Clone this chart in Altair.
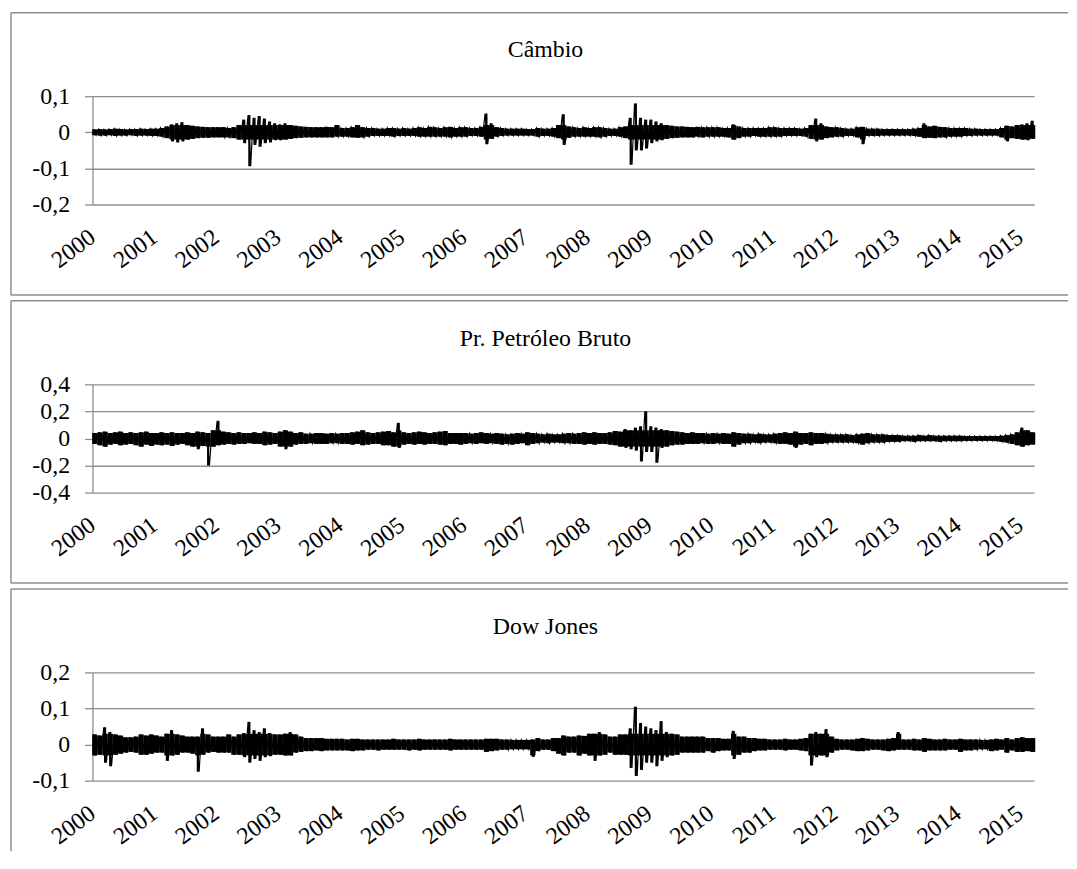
import altair as alt
import pandas as pd

# ---------------- data (values in thousandths: monthly high / low of the daily returns) ----------
tick_years = list(range(2000, 2016))

cambio_hi = [
    8, 9, 8, 9, 10, 9, 8, 9, 9, 10, 9, 10,
    10, 12, 16, 22, 25, 28, 20, 18, 16, 15, 14, 14,
    14, 14, 12, 14, 20, 35, 48, 40, 45, 38, 30, 25,
    22, 25, 20, 18, 16, 15, 14, 14, 14, 15, 14, 20,
    12, 12, 14, 20, 14, 12, 12, 10, 10, 12, 12, 10,
    12, 10, 12, 14, 12, 15, 14, 12, 14, 15, 12, 14,
    14, 12, 12, 15, 52, 25, 14, 12, 10, 10, 10, 10,
    9, 9, 12, 10, 10, 12, 20, 50, 16, 14, 12, 14,
    12, 14, 14, 12, 10, 10, 14, 16, 40, 80, 40, 35,
    35, 30, 25, 20, 18, 16, 16, 15, 14, 15, 14, 14,
    14, 14, 12, 12, 22, 16, 12, 12, 12, 12, 12, 14,
    14, 12, 12, 12, 12, 10, 12, 20, 38, 25, 16, 14,
    14, 12, 10, 10, 14, 15, 10, 10, 10, 9, 9, 9,
    9, 9, 9, 10, 12, 25, 16, 18, 15, 14, 12, 12,
    12, 12, 10, 10, 9, 9, 9, 9, 12, 18, 16, 20,
    22, 25, 32,
]
cambio_lo = [
    -8, -9, -9, -8, -10, -9, -9, -8, -10, -9, -9, -10,
    -10, -12, -16, -25, -28, -25, -20, -18, -16, -15, -15, -14,
    -14, -14, -14, -16, -20, -30, -94, -35, -40, -30, -28, -22,
    -22, -20, -18, -16, -15, -14, -14, -14, -14, -14, -14, -12,
    -12, -12, -14, -15, -14, -12, -10, -10, -10, -10, -12, -10,
    -10, -10, -10, -12, -12, -12, -12, -12, -12, -14, -12, -12,
    -12, -10, -10, -12, -33, -18, -12, -10, -9, -9, -9, -9,
    -9, -9, -12, -10, -10, -12, -16, -35, -15, -12, -12, -12,
    -12, -12, -14, -12, -10, -10, -12, -16, -90, -50, -50, -45,
    -30, -25, -22, -18, -16, -15, -14, -14, -14, -12, -14, -12,
    -12, -12, -12, -14, -20, -16, -12, -12, -10, -12, -12, -12,
    -12, -12, -10, -10, -10, -10, -12, -18, -25, -20, -16, -14,
    -12, -12, -10, -10, -14, -33, -10, -10, -10, -9, -9, -9,
    -9, -9, -9, -10, -12, -16, -15, -16, -14, -14, -12, -12,
    -12, -10, -10, -9, -9, -9, -9, -9, -14, -25, -16, -18,
    -20, -22, -18,
]

petroleo_hi = [
    40, 45, 50, 40, 45, 50, 40, 45, 40, 45, 50, 40,
    40, 45, 40, 45, 40, 40, 45, 40, 50, 45, 40, 60,
    130, 50, 45, 40, 45, 40, 40, 45, 40, 50, 45, 40,
    50, 60, 50, 40, 45, 35, 35, 40, 40, 35, 40, 35,
    40, 40, 45, 50, 60, 45, 40, 45, 50, 55, 45, 115,
    45, 40, 45, 50, 45, 40, 45, 50, 55, 40, 40, 40,
    40, 35, 40, 45, 40, 35, 40, 35, 30, 35, 40, 35,
    45, 40, 35, 30, 35, 30, 30, 35, 40, 35, 40, 45,
    40, 45, 40, 40, 45, 55, 50, 70, 60, 80, 90, 200,
    90, 80, 70, 60, 55, 50, 45, 40, 45, 40, 40, 35,
    40, 35, 40, 35, 45, 40, 35, 35, 30, 35, 30, 30,
    35, 40, 45, 40, 50, 40, 40, 45, 40, 40, 35, 30,
    30, 30, 30, 25, 30, 35, 40, 30, 30, 30, 25, 25,
    25, 20, 20, 20, 25, 20, 25, 20, 20, 20, 20, 20,
    20, 18, 18, 18, 18, 18, 18, 18, 20, 25, 30, 45,
    80, 60, 45,
]
petroleo_lo = [
    -40, -50, -60, -45, -40, -50, -45, -40, -50, -60, -45, -55,
    -45, -50, -45, -55, -45, -40, -50, -60, -80, -55, -200, -60,
    -50, -45, -40, -45, -40, -40, -35, -40, -40, -50, -45, -40,
    -60, -80, -60, -45, -40, -40, -35, -40, -40, -40, -35, -35,
    -40, -40, -45, -40, -50, -45, -40, -40, -50, -50, -60, -70,
    -45, -40, -45, -40, -45, -40, -40, -45, -50, -40, -40, -45,
    -40, -35, -40, -35, -40, -35, -40, -45, -40, -45, -40, -35,
    -50, -40, -35, -30, -35, -30, -30, -35, -35, -40, -40, -45,
    -40, -45, -40, -40, -45, -50, -60, -70, -80, -90, -170, -100,
    -100, -180, -70, -60, -50, -45, -45, -40, -40, -40, -35, -40,
    -40, -35, -40, -40, -60, -45, -35, -35, -30, -35, -30, -30,
    -35, -40, -40, -45, -70, -45, -40, -50, -40, -40, -35, -30,
    -30, -30, -30, -30, -35, -45, -35, -30, -30, -30, -25, -25,
    -25, -20, -20, -25, -20, -20, -20, -20, -25, -20, -20, -20,
    -20, -18, -18, -18, -18, -18, -18, -20, -25, -30, -40, -50,
    -60, -50, -45,
]

dow_hi = [
    28, 25, 48, 35, 28, 25, 20, 20, 22, 28, 25, 28,
    25, 22, 30, 40, 28, 25, 22, 22, 22, 45, 28, 22,
    22, 22, 28, 22, 28, 32, 63, 40, 35, 45, 32, 28,
    28, 30, 35, 28, 22, 18, 18, 18, 18, 16, 16, 16,
    16, 14, 16, 16, 14, 14, 14, 14, 14, 14, 16, 14,
    14, 14, 14, 16, 14, 14, 14, 14, 14, 16, 14, 14,
    14, 14, 14, 14, 16, 16, 16, 14, 14, 13, 13, 13,
    13, 14, 18, 14, 14, 18, 18, 25, 22, 22, 25, 24,
    30, 30, 35, 28, 22, 22, 28, 28, 45, 105, 60, 50,
    45, 40, 65, 35, 30, 28, 22, 22, 22, 22, 22, 18,
    18, 18, 16, 16, 38, 22, 22, 18, 18, 16, 16, 14,
    14, 14, 16, 14, 14, 16, 18, 30, 35, 30, 43, 22,
    16, 14, 14, 14, 16, 18, 16, 14, 14, 14, 16, 18,
    35, 14, 14, 16, 14, 18, 16, 14, 14, 16, 14, 14,
    16, 14, 14, 14, 13, 13, 14, 16, 14, 18, 14, 18,
    20, 18, 18,
]
dow_lo = [
    -30, -28, -50, -60, -28, -25, -22, -20, -22, -28, -28, -25,
    -22, -22, -45, -30, -28, -22, -22, -25, -75, -28, -22, -20,
    -22, -22, -22, -28, -28, -35, -50, -40, -45, -35, -32, -28,
    -28, -30, -30, -22, -20, -18, -18, -16, -18, -16, -16, -16,
    -16, -16, -18, -16, -16, -14, -14, -16, -14, -14, -14, -14,
    -14, -16, -14, -16, -14, -14, -14, -14, -14, -16, -14, -14,
    -14, -14, -14, -14, -20, -18, -16, -14, -14, -13, -13, -13,
    -13, -34, -18, -14, -14, -18, -25, -30, -22, -22, -30, -25,
    -30, -45, -30, -28, -22, -28, -28, -28, -65, -87, -70, -50,
    -50, -60, -45, -35, -30, -28, -22, -22, -22, -22, -22, -18,
    -22, -18, -16, -16, -40, -28, -22, -22, -18, -16, -16, -14,
    -14, -14, -16, -14, -14, -16, -18, -58, -35, -30, -35, -22,
    -16, -14, -14, -16, -18, -18, -16, -14, -14, -16, -18, -16,
    -14, -14, -14, -16, -16, -20, -16, -16, -16, -16, -14, -14,
    -20, -16, -16, -14, -13, -13, -18, -16, -14, -22, -16, -20,
    -20, -18, -20,
]

# ---------------- styling ----------------
FONT = "Liberation Serif"
GRAY = "#8e8e8e"
FS = 24
W, H = 948, 109
LABEL_EXPR = ("datum.value == 0 ? '0' : "
              "replace(replace(format(datum.value, '.1f'), '.', ','), '\u2212', '-')")


def zigzag_df(hi, lo):
    rows = []
    for i, (h, l) in enumerate(zip(hi, lo)):
        rows.append({"t": 2000 + (i + 0.2) / 12, "v": h / 1000})
        rows.append({"t": 2000 + (i + 0.7) / 12, "v": l / 1000})
    return pd.DataFrame(rows)


def range_df(hi, lo):
    return pd.DataFrame({
        "t": [2000 + (i + 0.45) / 12 for i in range(len(hi))],
        "hi": [h / 1000 for h in hi],
        "lo": [l / 1000 for l in lo],
    })


one = alt.Data(values=[{"k": 1}])


def x_axis():
    return alt.Axis(values=tick_years, format="d", labelAngle=-37,
                    labelAlign="right", labelBaseline="middle",
                    labelFont=FONT, labelFontSize=FS, labelColor="black",
                    labelPadding=30, grid=False, domain=False, ticks=False,
                    labelFlush=False, labelOverlap=False, title=None)


def y_axis(yvals):
    return alt.Axis(values=yvals, labelExpr=LABEL_EXPR, grid=True,
                    gridColor=GRAY, gridWidth=1.3, domain=True,
                    domainColor=GRAY, domainWidth=1.3, ticks=True,
                    tickColor=GRAY, tickSize=8, tickWidth=1.3,
                    labelFont=FONT, labelFontSize=FS, labelColor="black",
                    labelPadding=15, labelOverlap=False, title=None)


def panel(title, hi, lo, yvals, body, bottom_line=True, left_bottom=200):
    xscale = alt.Scale(domain=[2000, 2015.23], nice=False, zero=False)
    yscale = alt.Scale(domain=[yvals[0], yvals[-1]], nice=False, zero=False)
    line = alt.Chart(zigzag_df(hi, lo)).mark_line(color="black", strokeWidth=1.2).encode(
        x=alt.X("t:Q", scale=xscale, axis=x_axis()),
        y=alt.Y("v:Q", scale=yscale, axis=y_axis(yvals)),
    )
    rng = range_df(hi, lo)
    # dense body of the band (wide strokes, limited to the usual daily range)
    band = alt.Chart(rng).transform_calculate(
        b_hi=f"min(datum.hi, {body})", b_lo=f"max(datum.lo, -{body})"
    ).mark_rule(color="black", strokeWidth=5.3).encode(
        x=alt.X("t:Q", scale=xscale, axis=x_axis()),
        y=alt.Y("b_lo:Q", scale=yscale, axis=y_axis(yvals)),
        y2="b_hi:Q",
    )
    # full monthly range as thin spikes
    spikes = alt.Chart(rng).mark_rule(color="black", strokeWidth=2.2).encode(
        x=alt.X("t:Q", scale=xscale, axis=x_axis()),
        y=alt.Y("lo:Q", scale=yscale, axis=y_axis(yvals)),
        y2="hi:Q",
    )
    top = alt.Chart(one).mark_rule(color=GRAY, strokeWidth=1.5).encode(
        x=alt.value(-82), x2=alt.value(982), y=alt.value(-84))
    left = alt.Chart(one).mark_rule(color=GRAY, strokeWidth=1.5).encode(
        x=alt.value(-82), y=alt.value(-84), y2=alt.value(left_bottom))
    layers = [top, left]
    if bottom_line:
        bot = alt.Chart(one).mark_rule(color=GRAY, strokeWidth=1.5).encode(
            x=alt.value(-82), x2=alt.value(982), y=alt.value(200))
        layers.append(bot)
    ttl = alt.Chart(one).mark_text(font=FONT, fontSize=FS, color="black",
                                   align="center", baseline="alphabetic").encode(
        x=alt.value(456), y=alt.value(-39), text=alt.value(title))
    return alt.layer(*layers, band, spikes, line, ttl).properties(width=W, height=H)


p1 = panel("Câmbio", cambio_hi, cambio_lo, [-0.2, -0.1, 0, 0.1], 0.02)
p2 = panel("Pr. Petróleo Bruto", petroleo_hi, petroleo_lo, [-0.4, -0.2, 0, 0.2, 0.4], 0.06)
p3 = panel("Dow Jones", dow_hi, dow_lo, [-0.1, 0, 0.1, 0.2], 0.03,
           bottom_line=False, left_bottom=180)

chart = alt.vconcat(p1, p2, p3, spacing=4).properties(
    padding={"left": 2, "top": 1, "right": 0, "bottom": 0}
).configure(font=FONT).configure_axis(labelFont=FONT).configure_view(strokeWidth=0)

chart.save("out.html", embed_options={"renderer": "svg", "actions": False})
